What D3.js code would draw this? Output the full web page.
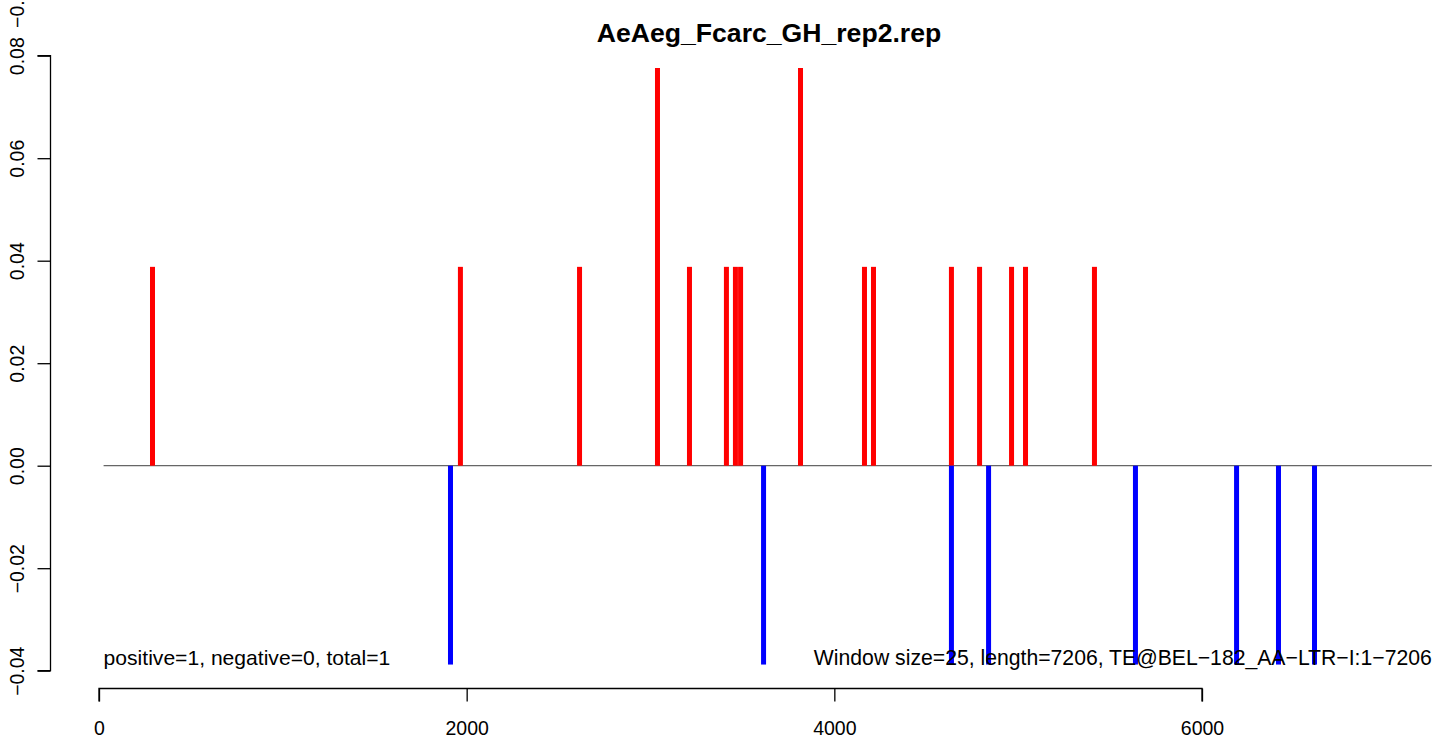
<!DOCTYPE html>
<html>
<head>
<meta charset="utf-8">
<script src="https://cdn.jsdelivr.net/npm/d3@7"></script>
<style>
  html, body { margin: 0; padding: 0; background: #fff; }
  svg { display: block; font-family: "Liberation Sans", Arial, Helvetica, sans-serif; }
</style>
</head>
<body>
<svg id="chart" width="1439" height="740"></svg>
<script>
// ---- data ----
const title = "AeAeg_Fcarc_GH_rep2.rep";
const positivePos = [291, 1966, 2614, 3038, 3212, 3413, 3462, 3490, 3816, 4164, 4213, 4637, 4790, 4964, 5040, 5415];
const positiveVal = [0.0388, 0.0388, 0.0388, 0.0776, 0.0388, 0.0388, 0.0388, 0.0388, 0.0776, 0.0388, 0.0388, 0.0388, 0.0388, 0.0388, 0.0388, 0.0388];
const negativePos = [1912, 3615, 4637, 4839, 5638, 6188, 6416, 6612];
const negativeVal = [-0.0388, -0.0388, -0.0388, -0.0388, -0.0388, -0.0388, -0.0388, -0.0388];
const xTicks = [0, 2000, 4000, 6000];
const yTicks = [-0.04, -0.02, 0.00, 0.02, 0.04, 0.06, 0.08];
const baselineRange = [25, 7250];
const leftNote = "positive=1, negative=0, total=1";
const rightNote = "Window size=25, length=7206, TE@BEL\u2212182_AA\u2212LTR\u2212I:1\u22127206";

// ---- scales ----
const svg = d3.select("#chart");
const x = d3.scaleLinear().domain([0, 6000]).range([99, 1202]);
const y = d3.scaleLinear().domain([-0.04, 0.08]).range([670.7, 55.7]);

const fmtY = v => d3.format(".2f")(v).replace("-", "\u2212");

// title
svg.append("text")
  .attr("x", 769).attr("y", 42)
  .attr("text-anchor", "middle")
  .attr("font-weight", "bold")
  .attr("font-size", 26.6)
  .text(title);

// zero baseline
svg.append("line")
  .attr("x1", x(baselineRange[0])).attr("x2", x(baselineRange[1]))
  .attr("y1", y(0)).attr("y2", y(0))
  .attr("stroke", "#666").attr("stroke-width", 1.2);

// bars
const barW = 5;
svg.append("g").selectAll("rect")
  .data(positivePos.map((p, i) => ({p, v: positiveVal[i]})))
  .join("rect")
  .attr("x", d => x(d.p) - barW / 2)
  .attr("width", barW)
  .attr("y", d => y(d.v))
  .attr("height", d => y(0) - y(d.v))
  .attr("fill", "#ff0000");

svg.append("g").selectAll("rect")
  .data(negativePos.map((p, i) => ({p, v: negativeVal[i]})))
  .join("rect")
  .attr("x", d => x(d.p) - barW / 2)
  .attr("width", barW)
  .attr("y", y(0))
  .attr("height", d => y(d.v) - y(0))
  .attr("fill", "#0000ff");

// x axis
const xAxis = d3.axisBottom(x).tickValues(xTicks).tickSize(13).tickPadding(20).tickFormat(d3.format("d"));
const gx = svg.append("g").attr("transform", "translate(0,688.5)").call(xAxis);
gx.select(".domain").attr("d", `M${x(0)},13V0H${x(6000)}V13`).attr("stroke", "#000").attr("stroke-width", 1.3);
gx.selectAll(".tick line").attr("stroke", "#000").attr("stroke-width", 1.3);
gx.selectAll(".tick text").attr("font-size", 19.5).attr("fill", "#000")
  .attr("font-family", "'Liberation Sans', Arial, sans-serif").attr("dy", "0.71em");

// y axis
const yAxis = d3.axisLeft(y).tickValues(yTicks).tickSize(13).tickFormat(fmtY);
const gy = svg.append("g").attr("transform", "translate(50.5,0)").call(yAxis);
gy.select(".domain").attr("d", `M-13,${y(0.08)}H0V${y(-0.04)}H-13`).attr("stroke", "#000").attr("stroke-width", 1.3);
gy.selectAll(".tick line").attr("stroke", "#000").attr("stroke-width", 1.3);
gy.selectAll(".tick text").remove();
gy.selectAll(".tick").append("text")
  .attr("transform", "translate(-27,0) rotate(-90)")
  .attr("text-anchor", "middle")
  .attr("font-size", 19.5)
  .attr("fill", "#000")
  .attr("font-family", "'Liberation Sans', Arial, sans-serif")
  .text(d => fmtY(d));

// clipped extra label at the top edge (as in the reference)
svg.append("text")
  .attr("transform", "translate(23.5,28) rotate(-90)")
  .attr("text-anchor", "start")
  .attr("font-size", 19.5)
  .text("\u22120.04");

// notes
svg.append("text")
  .attr("x", x(baselineRange[0])).attr("y", 665)
  .attr("font-size", 21.1)
  .text(leftNote);
svg.append("text")
  .attr("x", x(baselineRange[1])).attr("y", 665)
  .attr("text-anchor", "end")
  .attr("font-size", 21.2)
  .text(rightNote);
</script>
</body>
</html>
